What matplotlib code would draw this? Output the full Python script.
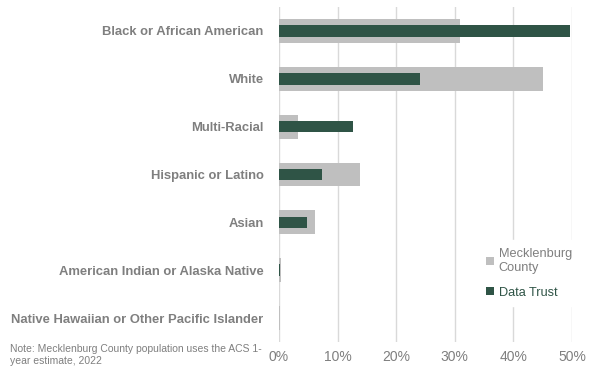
import matplotlib.pyplot as plt
from matplotlib.ticker import FuncFormatter

# data (percent)
categories = ["Black or African American", "White", "Multi-Racial",
              "Hispanic or Latino", "Asian", "American Indian or Alaska Native",
              "Native Hawaiian or Other Pacific Islander"]
mecklenburg = [30.9, 45.1, 3.2, 13.9, 6.1, 0.3, 0.1]
data_trust = [49.6, 24.0, 12.7, 7.4, 4.8, 0.2, 0.05]
x_ticks = [0, 10, 20, 30, 40, 50]

gray = "#bfbfbf"
green = "#2f5446"
text_gray = "#7f7f7f"

plt.rcParams['font.family'] = ['Liberation Sans', 'DejaVu Sans']

fig = plt.figure(figsize=(6.14, 3.8), dpi=100)
ax = fig.add_axes([279 / 614, 1 - 342 / 380, (572 - 279) / 614, (342 - 7) / 380])

ypos = list(range(len(categories)))
ax.barh(ypos, mecklenburg, height=0.5, color=gray, label="Mecklenburg\nCounty", zorder=2)
ax.barh(ypos, data_trust, height=0.24, color=green, label="Data Trust", zorder=3)

ax.set_ylim(len(categories) - 0.5, -0.5)
ax.set_xlim(0, 50)
ax.set_yticks(ypos)
ax.set_yticklabels(categories, fontsize=9.4, fontweight="bold", color=text_gray)
ax.set_xticks(x_ticks)
ax.xaxis.set_major_formatter(FuncFormatter(lambda v, p: "%d%%" % v))
ax.tick_params(axis="x", length=0, pad=6, labelsize=10, labelcolor=text_gray)
ax.tick_params(axis="y", length=0, pad=11)

#vertical gridlines only
ax.grid(axis="x", color="#d9d9d9", linewidth=1, zorder=0)
ax.set_axisbelow(True)
for s in ax.spines.values():
    s.set_visible(False)

leg = fig.legend(loc="upper left", bbox_to_anchor=(472 / 614, 1 - 234 / 380),
                 frameon=True, fontsize=9.2, handlelength=0.6, handleheight=0.6,
                 handletextpad=0.4, labelspacing=1.0, borderpad=0.6)
leg.get_frame().set_edgecolor("white")
leg.get_frame().set_facecolor("white")
leg.get_frame().set_alpha(1)
leg.get_texts()[0].set_color(text_gray)
leg.get_texts()[1].set_color(green)

fig.text(10 / 614, 1 - 344 / 380,
         "Note: Mecklenburg County population uses the ACS 1-\nyear estimate, 2022",
         fontsize=7.5, color=text_gray, va="top", ha="left", linespacing=1.3)

fig.savefig("out.png", dpi=100)
